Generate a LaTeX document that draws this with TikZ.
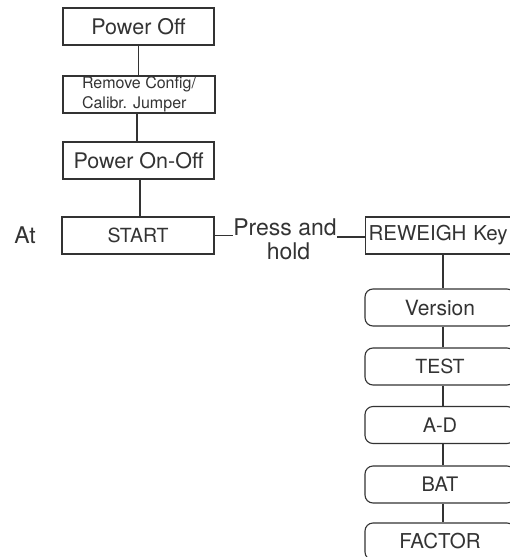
\documentclass[tikz,border=0pt]{standalone}
\usepackage{fontspec}
\setmainfont{TeX Gyre Heros}
\begin{document}
\begin{tikzpicture}[x=1pt,y=-1pt,
  line/.style={draw=black!80, line width=1.1pt},
  sqbox/.style={line, rectangle, minimum width=151pt, minimum height=37pt, inner sep=0pt, text=black!80},
  rbox/.style={line, rectangle, rounded corners=8pt, minimum width=150pt, minimum height=37pt, inner sep=0pt, text=black!80},
  lbl/.style={text=black!80, inner sep=0pt}]
\useasboundingbox (0,0) rectangle (510,557);
\clip (0,0) rectangle (510,557);
\node[sqbox, font=\fontsize{21.5}{24}\selectfont] (off) at (138.5,26.5) {Power Off};
\node[sqbox, minimum width=152pt, font=\fontsize{16}{20.5}\selectfont, align=left] (jumper) at (139,94.5) {Remove Config/\\Calibr. Jumper};
\node[sqbox, font=\fontsize{21.5}{24}\selectfont] (onoff) at (138.5,160.5) {Power On-Off};
\node[sqbox, minimum width=152pt, font=\fontsize{19.5}{22}\selectfont] (start) at (138,235.5) {START};
\node[lbl, font=\fontsize{23}{26}\selectfont] (at) at (25,235) {At};
\node[lbl, font=\fontsize{23}{24}\selectfont, align=center] (press) at (285,239) {Press and\\\hspace*{7pt}hold};
\node[sqbox, anchor=west, minimum width=160pt, font=\fontsize{20.5}{22}\selectfont, text width=154pt, align=left] (rew) at (365,235.5) {REWEIGH Key};
\node[rbox, font=\fontsize{21}{22}\selectfont] (ver) at (440,307.5) {Version};
\node[rbox, font=\fontsize{19.5}{22}\selectfont] (test) at (440,366.5) {TEST};
\node[rbox, font=\fontsize{20}{22}\selectfont] (ad) at (440,425) {A-D};
\node[rbox, font=\fontsize{20}{22}\selectfont] (bat) at (440,484.5) {BAT};
\node[rbox, font=\fontsize{20.5}{22}\selectfont] (fac) at (440,541.5) {FACTOR};
\draw[line] (off.south) -- (jumper.north -| off.south);
\draw[line] (jumper.south -| 137,0) -- (onoff.north -| 137,0);
\draw[line] (onoff.south -| 140,0) -- (start.north -| 140,0);
\draw[line] (start.east) -- (press.west |- start.east);
\draw[line] (press.east |- 0,237) -- (rew.west |- 0,237);
\draw[line] (rew.south -| 443,0) -- (ver.north -| 443,0);
\draw[line] (ver.south -| 443,0) -- (test.north -| 443,0);
\draw[line] (test.south -| 443,0) -- (ad.north -| 443,0);
\draw[line] (ad.south -| 443,0) -- (bat.north -| 443,0);
\draw[line] (bat.south -| 443,0) -- (fac.north -| 443,0);
\end{tikzpicture}
\end{document}
